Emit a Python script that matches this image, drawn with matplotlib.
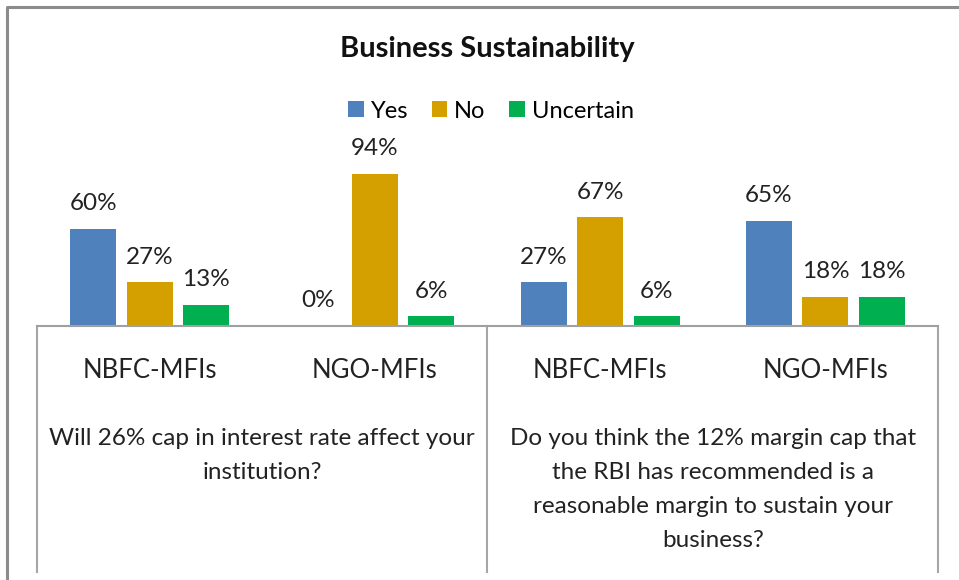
import matplotlib
matplotlib.use("Agg")
import numpy as np
import matplotlib.pyplot as plt
from matplotlib.lines import Line2D

plt.rcParams["font.family"] = ["Lato", "DejaVu Sans"]

# data
groups = ["NBFC-MFIs", "NGO-MFIs", "NBFC-MFIs", "NGO-MFIs"]
questions = [
    "Will 26% cap in interest rate affect your\ninstitution?",
    "Do you think the 12% margin cap that\nthe RBI has recommended is a\nreasonable margin to sustain your\nbusiness?",
]
series_names = ["Yes", "No", "Uncertain"]
yes_vals = [60, 0, 27, 65]
no_vals = [27, 94, 67, 18]
unc_vals = [13, 6, 6, 18]
colors = ["#4F81BD", "#D4A000", "#00B050"]

W, H = 959, 580
fig = plt.figure(figsize=(W / 100, H / 100), dpi=100)

def fx(px):
    return px / W

def fy(py):
    return 1 - py / H

# plot area in pixels: left 37, right 938, baseline 326, 100% at 164
left, right, base, top = 37, 938, 326, 164
ax = fig.add_axes([fx(left), fy(base), fx(right - left), (base - top) / H])
ax.set_xlim(0, len(groups))
ax.set_ylim(0, 100)
ax.axis("off")

def ypix(py):
    # pixel row below the baseline -> data units of the plot
    return -(py - base) / (base - top) * 100

x = np.arange(len(groups)) + 0.5
bw = 0.204
step = 0.251
for i, (name, vals) in enumerate(zip(series_names, [yes_vals, no_vals, unc_vals])):
    pos = x + (i - 1) * step
    ax.bar(pos, vals, bw, color=colors[i], label=name, zorder=2)
    for p, v in zip(pos, vals):
        ax.annotate(f"{v}%", (p, v), xytext=(0, 10.5), textcoords="offset points",
                    ha="center", va="bottom", fontsize=17.5, color="#222222",
                    annotation_clip=False)

# baseline and category table lines
ax.plot([0, len(groups)], [0, 0], color="#A0A0A0", lw=1.5, clip_on=False, zorder=3)
for xv in [0, 2, 4]:
    ax.plot([xv, xv], [0, ypix(572)], color="#A6A6A6", lw=1.5, clip_on=False)

for xi, g in zip(x, groups):
    ax.text(xi, ypix(370), g, ha="center", va="center",
            fontsize=18.5, color="#222222")
for qi, q in enumerate(questions):
    ax.text(1 + 2 * qi, ypix(428), q, ha="center", va="top",
            fontsize=17.5, color="#222222", linespacing=1.77)

fig.text(fx(487), fy(49), "Business Sustainability", ha="center", va="center",
         fontsize=21, fontweight="bold", color="#111111")

handles, labels = ax.get_legend_handles_labels()
fig.legend(handles, labels, loc="center", bbox_to_anchor=(fx(491), fy(111)), ncol=3,
           frameon=False, fontsize=17, handlelength=0.65, handleheight=0.65,
           handletextpad=0.3, columnspacing=1.0)

# outer chart border (cropped screenshot)
fig.add_artist(Line2D([fx(7), fx(7), fx(W)], [0, fy(7), fy(7)], color="#8C8C8C",
                      lw=2.2, transform=fig.transFigure))

fig.savefig("out.png", dpi=100)
